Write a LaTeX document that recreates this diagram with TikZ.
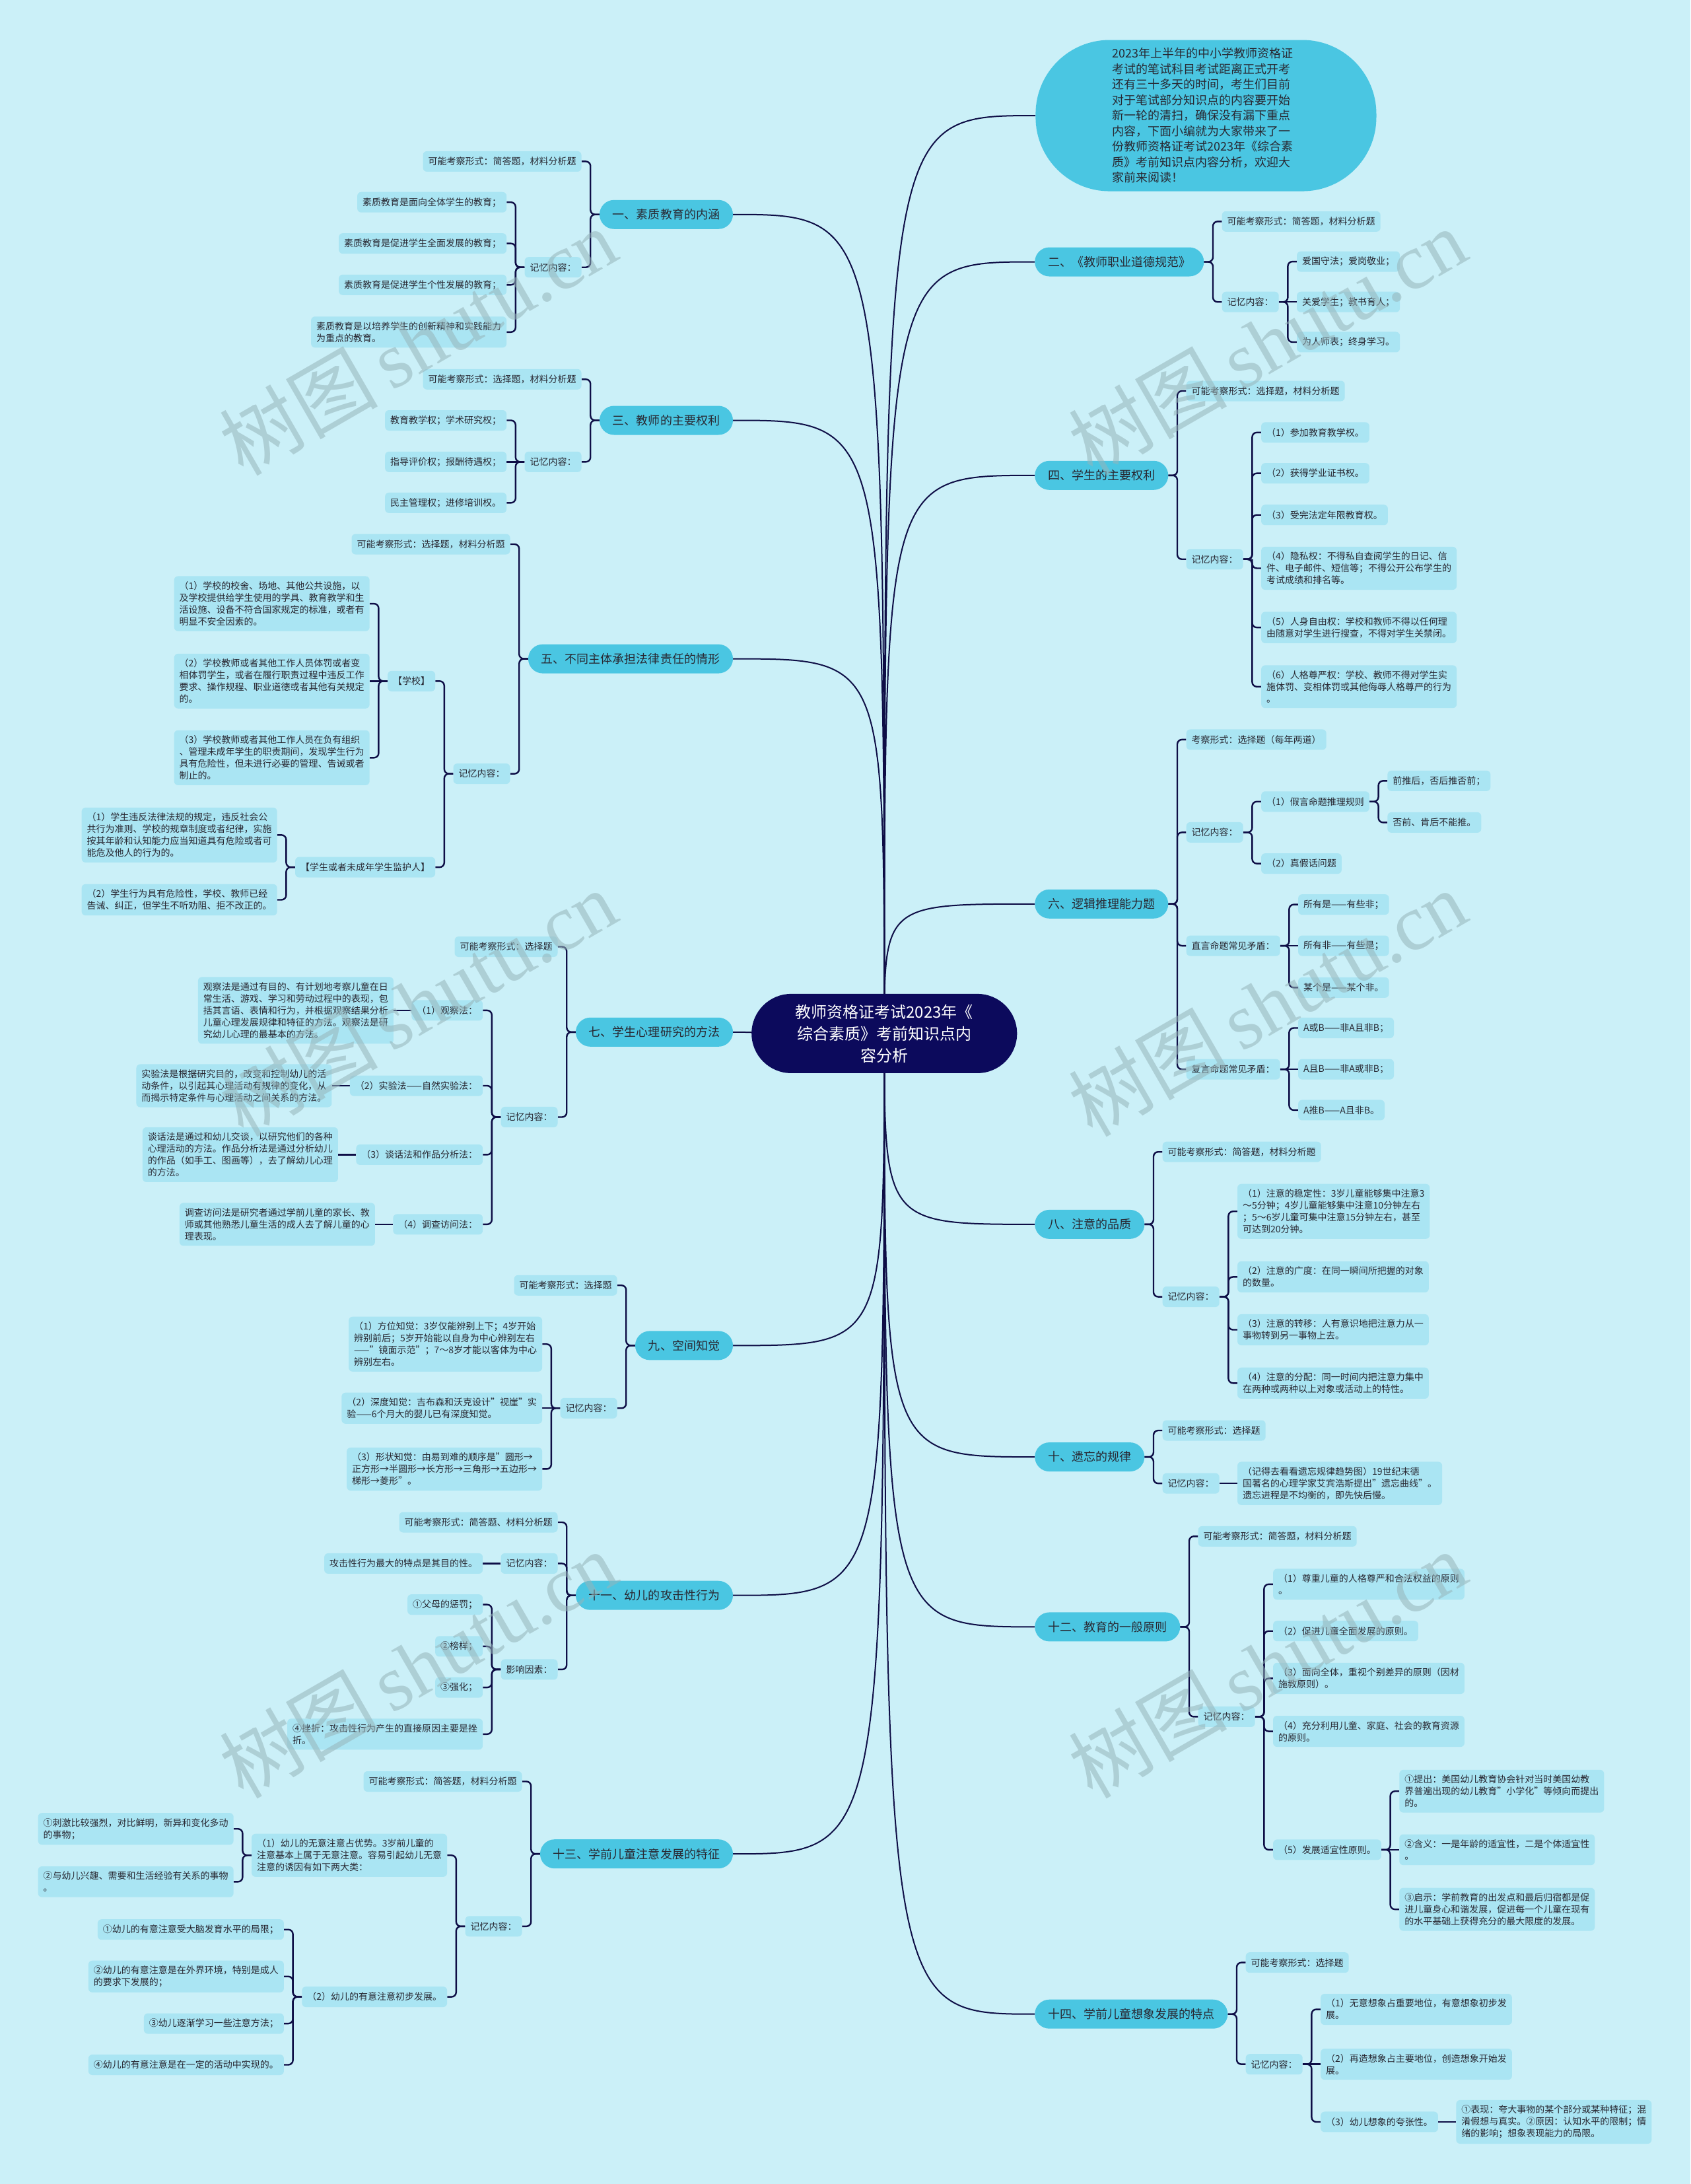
\documentclass[tikz,border=0pt]{standalone}
\usepackage{fontspec}
\setmainfont{Noto Sans CJK SC}
\newfontfamily\wmfont{Liberation Serif}
\usetikzlibrary{calc,positioning}
\pgfdeclarelayer{bg}
\pgfsetlayers{bg,main}
\definecolor{paper}{RGB}{203,240,248}
\definecolor{navy}{RGB}{12,10,92}
\definecolor{topicfill}{RGB}{74,198,226}
\definecolor{leaffill}{RGB}{170,229,243}
\definecolor{ink}{RGB}{40,40,50}
\definecolor{wirecol}{RGB}{14,14,70}
\definecolor{wmcol}{RGB}{150,180,186}

\tikzset{
  rootnode/.style={fill=navy, text=white, rounded corners=60pt, minimum width=402pt,
    minimum height=120pt, align=center, font=\fontsize{24pt}{33pt}\selectfont},
  intronode/.style={fill=topicfill, text=ink, rounded corners=112pt, minimum width=516pt,
    minimum height=229pt, inner sep=0pt, text width=284pt, align=left,
    font=\fontsize{18pt}{23.5pt}\selectfont},
  topic/.style={fill=topicfill, text=ink, rounded corners=22pt, minimum height=44pt,
    inner xsep=20pt, font=\fontsize{18pt}{22pt}\selectfont},
  leaf/.style={fill=leaffill, text=ink, rounded corners=6pt, minimum height=31pt,
    inner xsep=8pt, inner ysep=8pt, align=left, font=\fontsize{14pt}{18pt}\selectfont},
  wire/.style={draw=wirecol, line width=2.4pt, rounded corners=7pt},
  trunk/.style={draw=wirecol, line width=2pt},
  fork/.style={to path={-| ($(\tikztostart)!.5!(\tikztotarget)$) |- (\tikztotarget)}},
  wmark/.style={text=wmcol, opacity=0.55, rotate=30, font=\fontsize{120pt}{120pt}\selectfont},
}

\begin{document}
\begin{tikzpicture}[x=2.1087pt, y=-2.1087pt]
\useasboundingbox (0,0) rectangle (1214,1568);
\begin{pgfonlayer}{bg}
\fill[paper] (0,0) rectangle (1214,1568);
\end{pgfonlayer}

% centre
\node[rootnode] (root) at (635,742) {教师资格证考试2023年《\\综合素质》考前知识点内\\容分析};
\node[intronode] (intro) at (866,83) {2023年上半年的中小学教师资格证\\考试的笔试科目考试距离正式开考\\还有三十多天的时间，考生们目前\\对于笔试部分知识点的内容要开始\\新一轮的清扫，确保没有漏下重点\\内容，下面小编就为大家带来了一\\份教师资格证考试2023年《综合素\\质》考前知识点内容分析，欢迎大\\家前来阅读！};

% right topics
\node[topic,anchor=west] (b2) at (743,188) {二、《教师职业道德规范》};
\node[topic,anchor=west] (b4) at (743,341.3) {四、学生的主要权利};
\node[topic,anchor=west] (b6) at (743,649) {六、逻辑推理能力题};
\node[topic,anchor=west] (b8) at (743,879) {八、注意的品质};
\node[topic,anchor=west] (b10) at (743,1046) {十、遗忘的规律};
\node[topic,anchor=west] (b12) at (743,1168) {十二、教育的一般原则};
\node[topic,anchor=west] (b14) at (743,1446) {十四、学前儿童想象发展的特点};

% left topics
\node[topic,anchor=east] (b1) at (526.4,154) {一、素质教育的内涵};
\node[topic,anchor=east] (b3) at (526.4,301.8) {三、教师的主要权利};
\node[topic,anchor=east] (b5) at (526.4,473) {五、不同主体承担法律责任的情形};
\node[topic,anchor=east] (b7) at (526.4,741) {七、学生心理研究的方法};
\node[topic,anchor=east] (b9) at (526.4,966) {九、空间知觉};
\node[topic,anchor=east] (b11) at (526.4,1145.4) {十一、幼儿的攻击性行为};
\node[topic,anchor=east] (b13) at (526.4,1331) {十三、学前儿童注意发展的特征};

% b1
\node[leaf,anchor=east] (b1q) at ([xshift=-27pt]b1.west |- 0,115.9) {可能考察形式：简答题，材料分析题};
\node[leaf,anchor=east] (b1m) at ([xshift=-27pt]b1.west |- 0,191.9) {记忆内容：};
\node[leaf,anchor=east] (b1m1) at ([xshift=-27pt]b1m.west |- 0,145.2) {素质教育是面向全体学生的教育；};
\node[leaf,anchor=east] (b1m2) at ([xshift=-27pt]b1m.west |- 0,174.8) {素质教育是促进学生全面发展的教育；};
\node[leaf,anchor=east] (b1m3) at ([xshift=-27pt]b1m.west |- 0,204.5) {素质教育是促进学生个性发展的教育；};
\node[leaf,anchor=east] (b1m4) at ([xshift=-27pt]b1m.west |- 0,238.4) {素质教育是以培养学生的创新精神和实践能力\\为重点的教育。};

% b3
\node[leaf,anchor=east] (b3q) at ([xshift=-27pt]b3.west |- 0,272.3) {可能考察形式：选择题，材料分析题};
\node[leaf,anchor=east] (b3m) at ([xshift=-27pt]b3.west |- 0,331.6) {记忆内容：};
\node[leaf,anchor=east] (b3m1) at ([xshift=-27pt]b3m.west |- 0,301.8) {教育教学权；学术研究权；};
\node[leaf,anchor=east] (b3m2) at ([xshift=-27pt]b3m.west |- 0,331.6) {指导评价权；报酬待遇权；};
\node[leaf,anchor=east] (b3m3) at ([xshift=-27pt]b3m.west |- 0,361) {民主管理权；进修培训权。};

% b5
\node[leaf,anchor=east] (b5q) at ([xshift=-27pt]b5.west |- 0,390.7) {可能考察形式：选择题，材料分析题};
\node[leaf,anchor=east] (b5m) at ([xshift=-27pt]b5.west |- 0,555.5) {记忆内容：};
\node[leaf,anchor=east] (b5s) at ([xshift=-27pt]b5m.west |- 0,489) {【学校】};
\node[leaf,anchor=east] (b5p) at ([xshift=-27pt]b5m.west |- 0,622.6) {【学生或者未成年学生监护人】};
\node[leaf,anchor=east] (b5s1) at ([xshift=-27pt]b5s.west |- 0,433.4) {（1）学校的校舍、场地、其他公共设施，以\\及学校提供给学生使用的学具、教育教学和生\\活设施、设备不符合国家规定的标准，或者有\\明显不安全因素的。};
\node[leaf,anchor=east] (b5s2) at ([xshift=-27pt]b5s.west |- 0,489) {（2）学校教师或者其他工作人员体罚或者变\\相体罚学生，或者在履行职责过程中违反工作\\要求、操作规程、职业道德或者其他有关规定\\的。};
\node[leaf,anchor=east] (b5s3) at ([xshift=-27pt]b5s.west |- 0,544) {（3）学校教师或者其他工作人员在负有组织\\、管理未成年学生的职责期间，发现学生行为\\具有危险性，但未进行必要的管理、告诫或者\\制止的。};
\node[leaf,anchor=east] (b5p1) at ([xshift=-27pt]b5p.west |- 0,599.5) {（1）学生违反法律法规的规定，违反社会公\\共行为准则、学校的规章制度或者纪律，实施\\按其年龄和认知能力应当知道具有危险或者可\\能危及他人的行为的。};
\node[leaf,anchor=east] (b5p2) at ([xshift=-27pt]b5p.west |- 0,646) {（2）学生行为具有危险性，学校、教师已经\\告诫、纠正，但学生不听劝阻、拒不改正的。};

% b7
\node[leaf,anchor=east] (b7q) at ([xshift=-27pt]b7.west |- 0,679.7) {可能考察形式：选择题};
\node[leaf,anchor=east] (b7m) at ([xshift=-27pt]b7.west |- 0,802) {记忆内容：};
\node[leaf,anchor=east] (b7m1) at ([xshift=-27pt]b7m.west |- 0,725.4) {（1）观察法：};
\node[leaf,anchor=east] (b7m2) at ([xshift=-27pt]b7m.west |- 0,779.5) {（2）实验法——自然实验法：};
\node[leaf,anchor=east] (b7m3) at ([xshift=-27pt]b7m.west |- 0,829) {（3）谈话法和作品分析法：};
\node[leaf,anchor=east] (b7m4) at ([xshift=-27pt]b7m.west |- 0,879) {（4）调查访问法：};
\node[leaf,anchor=east] (b7m1a) at ([xshift=-27pt]b7m1.west) {观察法是通过有目的、有计划地考察儿童在日\\常生活、游戏、学习和劳动过程中的表现，包\\括其言语、表情和行为，并根据观察结果分析\\儿童心理发展规律和特征的方法。观察法是研\\究幼儿心理的最基本的方法。};
\node[leaf,anchor=east] (b7m2a) at ([xshift=-27pt]b7m2.west) {实验法是根据研究目的，改变和控制幼儿的活\\动条件，以引起其心理活动有规律的变化，从\\而揭示特定条件与心理活动之间关系的方法。};
\node[leaf,anchor=east] (b7m3a) at ([xshift=-27pt]b7m3.west) {谈话法是通过和幼儿交谈，以研究他们的各种\\心理活动的方法。作品分析法是通过分析幼儿\\的作品（如手工、图画等），去了解幼儿心理\\的方法。};
\node[leaf,anchor=east] (b7m4a) at ([xshift=-27pt]b7m4.west) {调查访问法是研究者通过学前儿童的家长、教\\师或其他熟悉儿童生活的成人去了解儿童的心\\理表现。};

% b9
\node[leaf,anchor=east] (b9q) at ([xshift=-27pt]b9.west |- 0,922.8) {可能考察形式：选择题};
\node[leaf,anchor=east] (b9m) at ([xshift=-27pt]b9.west |- 0,1011) {记忆内容：};
\node[leaf,anchor=east] (b9m1) at ([xshift=-27pt]b9m.west |- 0,965) {（1）方位知觉：3岁仅能辨别上下；4岁开始\\辨别前后；5岁开始能以自身为中心辨别左右\\——"镜面示范"；7～8岁才能以客体为中心\\辨别左右。};
\node[leaf,anchor=east] (b9m2) at ([xshift=-27pt]b9m.west |- 0,1011) {（2）深度知觉：吉布森和沃克设计"视崖"实\\验——6个月大的婴儿已有深度知觉。};
\node[leaf,anchor=east] (b9m3) at ([xshift=-27pt]b9m.west |- 0,1054.7) {（3）形状知觉：由易到难的顺序是"圆形→\\正方形→半圆形→长方形→三角形→五边形→\\梯形→菱形"。};

% b11
\node[leaf,anchor=east] (b11q) at ([xshift=-27pt]b11.west |- 0,1092.9) {可能考察形式：简答题、材料分析题};
\node[leaf,anchor=east] (b11m) at ([xshift=-27pt]b11.west |- 0,1122.5) {记忆内容：};
\node[leaf,anchor=east] (b11f) at ([xshift=-27pt]b11.west |- 0,1198.6) {影响因素：};
\node[leaf,anchor=east] (b11m1) at ([xshift=-27pt]b11m.west) {攻击性行为最大的特点是其目的性。};
\node[leaf,anchor=east] (b11f1) at ([xshift=-27pt]b11f.west |- 0,1152) {①父母的惩罚；};
\node[leaf,anchor=east] (b11f2) at ([xshift=-27pt]b11f.west |- 0,1182) {②榜样；};
\node[leaf,anchor=east] (b11f3) at ([xshift=-27pt]b11f.west |- 0,1211.5) {③强化；};
\node[leaf,anchor=east] (b11f4) at ([xshift=-27pt]b11f.west |- 0,1245) {④挫折：攻击性行为产生的直接原因主要是挫\\折。};

% b13
\node[leaf,anchor=east] (b13q) at ([xshift=-27pt]b13.west |- 0,1279) {可能考察形式：简答题，材料分析题};
\node[leaf,anchor=east] (b13m) at ([xshift=-27pt]b13.west |- 0,1383) {记忆内容：};
\node[leaf,anchor=east] (b13m1) at ([xshift=-27pt]b13m.west |- 0,1332) {（1）幼儿的无意注意占优势。3岁前儿童的\\注意基本上属于无意注意。容易引起幼儿无意\\注意的诱因有如下两大类：};
\node[leaf,anchor=east] (b13m2) at ([xshift=-27pt]b13m.west |- 0,1433.6) {（2）幼儿的有意注意初步发展。};
\node[leaf,anchor=east] (b13m1a) at ([xshift=-27pt]b13m1.west |- 0,1313) {①刺激比较强烈，对比鲜明，新异和变化多动\\的事物；};
\node[leaf,anchor=east] (b13m1b) at ([xshift=-27pt]b13m1.west |- 0,1351) {②与幼儿兴趣、需要和生活经验有关系的事物\\。};
\node[leaf,anchor=east] (b13m2a) at ([xshift=-27pt]b13m2.west |- 0,1385.3) {①幼儿的有意注意受大脑发育水平的局限；};
\node[leaf,anchor=east] (b13m2b) at ([xshift=-27pt]b13m2.west |- 0,1419) {②幼儿的有意注意是在外界环境，特别是成人\\的要求下发展的；};
\node[leaf,anchor=east] (b13m2c) at ([xshift=-27pt]b13m2.west |- 0,1452.8) {③幼儿逐渐学习一些注意方法；};
\node[leaf,anchor=east] (b13m2d) at ([xshift=-27pt]b13m2.west |- 0,1482.4) {④幼儿的有意注意是在一定的活动中实现的。};

% b2
\node[leaf,anchor=west] (b2q) at ([xshift=27pt]b2.east |- 0,159) {可能考察形式：简答题，材料分析题};
\node[leaf,anchor=west] (b2m) at ([xshift=27pt]b2.east |- 0,216.8) {记忆内容：};
\node[leaf,anchor=west] (b2m1) at ([xshift=27pt]b2m.east |- 0,187.8) {爱国守法；爱岗敬业；};
\node[leaf,anchor=west] (b2m2) at ([xshift=27pt]b2m.east |- 0,216.8) {关爱学生；教书育人；};
\node[leaf,anchor=west] (b2m3) at ([xshift=27pt]b2m.east |- 0,245.6) {为人师表；终身学习。};

% b4
\node[leaf,anchor=west] (b4q) at ([xshift=27pt]b4.east |- 0,280.7) {可能考察形式：选择题，材料分析题};
\node[leaf,anchor=west] (b4m) at ([xshift=27pt]b4.east |- 0,401.5) {记忆内容：};
\node[leaf,anchor=west] (b4m1) at ([xshift=27pt]b4m.east |- 0,310.5) {（1）参加教育教学权。};
\node[leaf,anchor=west] (b4m2) at ([xshift=27pt]b4m.east |- 0,339.8) {（2）获得学业证书权。};
\node[leaf,anchor=west] (b4m3) at ([xshift=27pt]b4m.east |- 0,369.7) {（3）受完法定年限教育权。};
\node[leaf,anchor=west] (b4m4) at ([xshift=27pt]b4m.east |- 0,408) {（4）隐私权：不得私自查阅学生的日记、信\\件、电子邮件、短信等；不得公开公布学生的\\考试成绩和排名等。};
\node[leaf,anchor=west] (b4m5) at ([xshift=27pt]b4m.east |- 0,450.5) {（5）人身自由权：学校和教师不得以任何理\\由随意对学生进行搜查，不得对学生关禁闭。};
\node[leaf,anchor=west] (b4m6) at ([xshift=27pt]b4m.east |- 0,493) {（6）人格尊严权：学校、教师不得对学生实\\施体罚、变相体罚或其他侮辱人格尊严的行为\\。};

% b6
\node[leaf,anchor=west] (b6q) at ([xshift=27pt]b6.east |- 0,531) {考察形式：选择题（每年两道）};
\node[leaf,anchor=west] (b6m) at ([xshift=27pt]b6.east |- 0,597.6) {记忆内容：};
\node[leaf,anchor=west] (b6z) at ([xshift=27pt]b6.east |- 0,679) {直言命题常见矛盾：};
\node[leaf,anchor=west] (b6f) at ([xshift=27pt]b6.east |- 0,767.7) {复言命题常见矛盾：};
\node[leaf,anchor=west] (b6m1) at ([xshift=27pt]b6m.east |- 0,575.5) {（1）假言命题推理规则};
\node[leaf,anchor=west] (b6m2) at ([xshift=27pt]b6m.east |- 0,620) {（2）真假话问题};
\node[leaf,anchor=west] (b6m1a) at ([xshift=27pt]b6m1.east |- 0,560.6) {前推后，否后推否前；};
\node[leaf,anchor=west] (b6m1b) at ([xshift=27pt]b6m1.east |- 0,590.5) {否前、肯后不能推。};
\node[leaf,anchor=west] (b6z1) at ([xshift=27pt]b6z.east |- 0,649.4) {所有是——有些非；};
\node[leaf,anchor=west] (b6z2) at ([xshift=27pt]b6z.east |- 0,679) {所有非——有些是；};
\node[leaf,anchor=west] (b6z3) at ([xshift=27pt]b6z.east |- 0,709) {某个是——某个非。};
\node[leaf,anchor=west] (b6f1) at ([xshift=27pt]b6f.east |- 0,738) {A或B——非A且非B；};
\node[leaf,anchor=west] (b6f2) at ([xshift=27pt]b6f.east |- 0,767.7) {A且B——非A或非B；};
\node[leaf,anchor=west] (b6f3) at ([xshift=27pt]b6f.east |- 0,797) {A推B——A且非B。};

% b8
\node[leaf,anchor=west] (b8q) at ([xshift=27pt]b8.east |- 0,827) {可能考察形式：简答题，材料分析题};
\node[leaf,anchor=west] (b8m) at ([xshift=27pt]b8.east |- 0,931) {记忆内容：};
\node[leaf,anchor=west] (b8m1) at ([xshift=27pt]b8m.east |- 0,869.7) {（1）注意的稳定性：3岁儿童能够集中注意3\\～5分钟；4岁儿童能够集中注意10分钟左右\\；5～6岁儿童可集中注意15分钟左右，甚至\\可达到20分钟。};
\node[leaf,anchor=west] (b8m2) at ([xshift=27pt]b8m.east |- 0,916.7) {（2）注意的广度：在同一瞬间所把握的对象\\的数量。};
\node[leaf,anchor=west] (b8m3) at ([xshift=27pt]b8m.east |- 0,954.7) {（3）注意的转移：人有意识地把注意力从一\\事物转到另一事物上去。};
\node[leaf,anchor=west] (b8m4) at ([xshift=27pt]b8m.east |- 0,993) {（4）注意的分配：同一时间内把注意力集中\\在两种或两种以上对象或活动上的特性。};

% b10
\node[leaf,anchor=west] (b10q) at ([xshift=27pt]b10.east |- 0,1027) {可能考察形式：选择题};
\node[leaf,anchor=west] (b10m) at ([xshift=27pt]b10.east |- 0,1065) {记忆内容：};
\node[leaf,anchor=west] (b10m1) at ([xshift=27pt]b10m.east) {（记得去看看遗忘规律趋势图）19世纪末德\\国著名的心理学家艾宾浩斯提出"遗忘曲线"。\\遗忘进程是不均衡的，即先快后慢。};

% b12
\node[leaf,anchor=west] (b12q) at ([xshift=27pt]b12.east |- 0,1103) {可能考察形式：简答题，材料分析题};
\node[leaf,anchor=west] (b12m) at ([xshift=27pt]b12.east |- 0,1232.5) {记忆内容：};
\node[leaf,anchor=west] (b12m1) at ([xshift=27pt]b12m.east |- 0,1137.4) {（1）尊重儿童的人格尊严和合法权益的原则\\。};
\node[leaf,anchor=west] (b12m2) at ([xshift=27pt]b12m.east |- 0,1171) {（2）促进儿童全面发展的原则。};
\node[leaf,anchor=west] (b12m3) at ([xshift=27pt]b12m.east |- 0,1205) {（3）面向全体，重视个别差异的原则（因材\\施教原则）。};
\node[leaf,anchor=west] (b12m4) at ([xshift=27pt]b12m.east |- 0,1243) {（4）充分利用儿童、家庭、社会的教育资源\\的原则。};
\node[leaf,anchor=west] (b12m5) at ([xshift=27pt]b12m.east |- 0,1328) {（5）发展适宜性原则。};
\node[leaf,anchor=west] (b12m5a) at ([xshift=27pt]b12m5.east |- 0,1286) {①提出：美国幼儿教育协会针对当时美国幼教\\界普遍出现的幼儿教育"小学化"等倾向而提出\\的。};
\node[leaf,anchor=west] (b12m5b) at ([xshift=27pt]b12m5.east |- 0,1328) {②含义：一是年龄的适宜性，二是个体适宜性\\。};
\node[leaf,anchor=west] (b12m5c) at ([xshift=27pt]b12m5.east |- 0,1370.8) {③启示：学前教育的出发点和最后归宿都是促\\进儿童身心和谐发展，促进每一个儿童在现有\\的水平基础上获得充分的最大限度的发展。};

% b14
\node[leaf,anchor=west] (b14q) at ([xshift=27pt]b14.east |- 0,1409) {可能考察形式：选择题};
\node[leaf,anchor=west] (b14m) at ([xshift=27pt]b14.east |- 0,1482) {记忆内容：};
\node[leaf,anchor=west] (b14m1) at ([xshift=27pt]b14m.east |- 0,1442.6) {（1）无意想象占重要地位，有意想象初步发\\展。};
\node[leaf,anchor=west] (b14m2) at ([xshift=27pt]b14m.east |- 0,1482) {（2）再造想象占主要地位，创造想象开始发\\展。};
\node[leaf,anchor=west] (b14m3) at ([xshift=27pt]b14m.east |- 0,1523.4) {（3）幼儿想象的夸张性。};
\node[leaf,anchor=west] (b14m3a) at ([xshift=27pt]b14m3.east) {①表现：夸大事物的某个部分或某种特征；混\\淆假想与真实。②原因：认知水平的限制；情\\绪的影响；想象表现能力的局限。};

% connectors
\begin{pgfonlayer}{bg}
\foreach \b in {intro,b2,b4,b6,b8,b10,b12,b14}
  \draw[trunk] (root.center) .. controls (root.center |- \b.west) .. (\b.west);
\foreach \b in {b1,b3,b5,b9,b11,b13}
  \draw[trunk] (root.center) .. controls (root.center |- \b.east) .. (\b.east);
\draw[trunk] (root.center) -- (b7.east);
% left side
\foreach \c in {b1q,b1m} \draw[wire] (b1.west) to[fork] (\c.east);
\foreach \c in {b1m1,b1m2,b1m3,b1m4} \draw[wire] (b1m.west) to[fork] (\c.east);
\foreach \c in {b3q,b3m} \draw[wire] (b3.west) to[fork] (\c.east);
\foreach \c in {b3m1,b3m3} \draw[wire] (b3m.west) to[fork] (\c.east);
\draw[wire] (b3m.west) -- (b3m2.east);
\foreach \c in {b5q,b5m} \draw[wire] (b5.west) to[fork] (\c.east);
\foreach \c in {b5s,b5p} \draw[wire] (b5m.west) to[fork] (\c.east);
\foreach \c in {b5s1,b5s3} \draw[wire] (b5s.west) to[fork] (\c.east);
\draw[wire] (b5s.west) -- (b5s2.east);
\foreach \c in {b5p1,b5p2} \draw[wire] (b5p.west) to[fork] (\c.east);
\foreach \c in {b7q,b7m} \draw[wire] (b7.west) to[fork] (\c.east);
\foreach \c in {b7m1,b7m2,b7m3,b7m4} {
  \draw[wire] (b7m.west) to[fork] (\c.east);
  \draw[wire] (\c.west) -- (\c a.east);
}
\foreach \c in {b9q,b9m} \draw[wire] (b9.west) to[fork] (\c.east);
\foreach \c in {b9m1,b9m3} \draw[wire] (b9m.west) to[fork] (\c.east);
\draw[wire] (b9m.west) -- (b9m2.east);
\foreach \c in {b11q,b11m,b11f} \draw[wire] (b11.west) to[fork] (\c.east);
\draw[wire] (b11m.west) -- (b11m1.east);
\foreach \c in {b11f1,b11f2,b11f3,b11f4} \draw[wire] (b11f.west) to[fork] (\c.east);
\foreach \c in {b13q,b13m} \draw[wire] (b13.west) to[fork] (\c.east);
\foreach \c in {b13m1,b13m2} \draw[wire] (b13m.west) to[fork] (\c.east);
\foreach \c in {b13m1a,b13m1b} \draw[wire] (b13m1.west) to[fork] (\c.east);
\foreach \c in {b13m2a,b13m2b,b13m2c,b13m2d} \draw[wire] (b13m2.west) to[fork] (\c.east);
% right side
\foreach \c in {b2q,b2m} \draw[wire] (b2.east) to[fork] (\c.west);
\foreach \c in {b2m1,b2m3} \draw[wire] (b2m.east) to[fork] (\c.west);
\draw[wire] (b2m.east) -- (b2m2.west);
\foreach \c in {b4q,b4m} \draw[wire] (b4.east) to[fork] (\c.west);
\foreach \c in {b4m1,b4m2,b4m3,b4m4,b4m5,b4m6} \draw[wire] (b4m.east) to[fork] (\c.west);
\foreach \c in {b6q,b6m,b6z,b6f} \draw[wire] (b6.east) to[fork] (\c.west);
\foreach \c in {b6m1,b6m2} \draw[wire] (b6m.east) to[fork] (\c.west);
\foreach \c in {b6m1a,b6m1b} \draw[wire] (b6m1.east) to[fork] (\c.west);
\foreach \c in {b6z1,b6z3} \draw[wire] (b6z.east) to[fork] (\c.west);
\draw[wire] (b6z.east) -- (b6z2.west);
\foreach \c in {b6f1,b6f3} \draw[wire] (b6f.east) to[fork] (\c.west);
\draw[wire] (b6f.east) -- (b6f2.west);
\foreach \c in {b8q,b8m} \draw[wire] (b8.east) to[fork] (\c.west);
\foreach \c in {b8m1,b8m2,b8m3,b8m4} \draw[wire] (b8m.east) to[fork] (\c.west);
\foreach \c in {b10q,b10m} \draw[wire] (b10.east) to[fork] (\c.west);
\draw[wire] (b10m.east) -- (b10m1.west);
\foreach \c in {b12q,b12m} \draw[wire] (b12.east) to[fork] (\c.west);
\foreach \c in {b12m1,b12m2,b12m3,b12m4,b12m5} \draw[wire] (b12m.east) to[fork] (\c.west);
\foreach \c in {b12m5a,b12m5c} \draw[wire] (b12m5.east) to[fork] (\c.west);
\draw[wire] (b12m5.east) -- (b12m5b.west);
\foreach \c in {b14q,b14m} \draw[wire] (b14.east) to[fork] (\c.west);
\foreach \c in {b14m1,b14m3} \draw[wire] (b14m.east) to[fork] (\c.west);
\draw[wire] (b14m.east) -- (b14m2.west);
\draw[wire] (b14m3.east) -- (b14m3a.west);
\end{pgfonlayer}

% watermark
\foreach \wx/\wy [count=\i] in {300/245,910/245,300/720,910/720,300/1195,910/1195}
  \node[wmark] (wm\i) at (\wx,\wy) {树图\,{\wmfont shutu.cn}};
\end{tikzpicture}
\end{document}
